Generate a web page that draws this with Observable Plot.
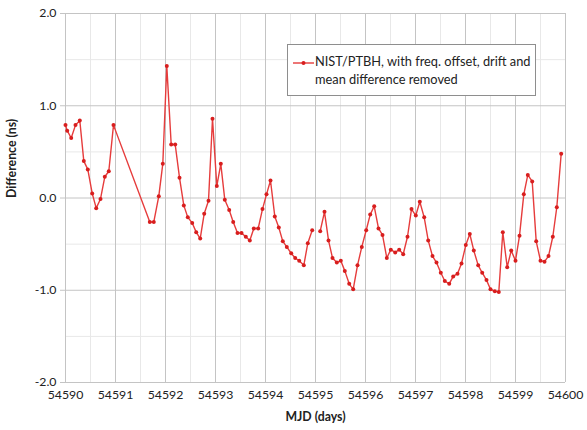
<!DOCTYPE html>
<html>
<head>
<meta charset="utf-8">
<script src="https://cdn.jsdelivr.net/npm/d3@7"></script>
<script src="https://cdn.jsdelivr.net/npm/@observablehq/plot@0.6"></script>
<style>
  body { margin: 0; background: #fff; }
  #chart { position: relative; width: 587px; height: 430px; }
  .legend {
    position: absolute; left: 287px; top: 44px; width: 249px; height: 52px;
    box-sizing: border-box; border: 1px solid #8e8e8e; background: #fff;
    font: 12.8px Lato, sans-serif; color: #222;
  }
  .legend .txt { position: absolute; left: 27px; top: 8px; line-height: 17.7px; white-space: nowrap; }
  .legend svg { position: absolute; left: 5px; top: 13px; }
</style>
</head>
<body>
<div id="chart"></div>
<script>
// NIST/PTBH time difference (ns), 2-hourly samples
const mjd = [
  54590.000, 54590.034, 54590.114, 54590.200, 54590.286, 54590.366, 54590.446, 54590.534,
  54590.614, 54590.700, 54590.786, 54590.866, 54590.960,
  54591.686, 54591.766, 54591.866, 54591.946, 54592.026, 54592.114, 54592.194, 54592.280,
  54592.366, 54592.446, 54592.534, 54592.614, 54592.694, 54592.774, 54592.860, 54592.940,
  54593.026, 54593.106, 54593.186, 54593.274, 54593.354, 54593.440, 54593.520, 54593.606,
  54593.686, 54593.766, 54593.854, 54593.940, 54594.020, 54594.100, 54594.186, 54594.266,
  54594.346, 54594.426, 54594.514, 54594.594, 54594.674, 54594.766, 54594.846, 54594.934,
  54595.014,
  54595.094, 54595.180, 54595.260, 54595.340, 54595.426, 54595.506, 54595.586, 54595.674,
  54595.754, 54595.840, 54595.926, 54596.014, 54596.094, 54596.174, 54596.260, 54596.340,
  54596.426, 54596.506, 54596.594, 54596.674, 54596.754, 54596.840, 54596.920, 54597.006,
  54597.086, 54597.174, 54597.254, 54597.340, 54597.420, 54597.506, 54597.586, 54597.674,
  54597.754, 54597.840, 54597.920, 54598.006, 54598.086, 54598.166, 54598.254, 54598.334,
  54598.420, 54598.500, 54598.586, 54598.666, 54598.746, 54598.834, 54598.914, 54599.000,
  54599.080, 54599.166, 54599.246, 54599.334, 54599.414, 54599.500, 54599.580, 54599.660,
  54599.746, 54599.826, 54599.914
];
const diff = [
  0.79, 0.73, 0.65, 0.79, 0.84, 0.40, 0.31, 0.05,
  -0.11, -0.01, 0.23, 0.29, 0.79,
  -0.26, -0.26, 0.02, 0.37, 1.43, 0.58, 0.58, 0.22,
  -0.08, -0.21, -0.27, -0.37, -0.44, -0.17, -0.03, 0.86,
  0.13, 0.37, -0.02, -0.13, -0.26, -0.38, -0.38, -0.42,
  -0.46, -0.33, -0.33, -0.12, 0.04, 0.19, -0.20, -0.32,
  -0.47, -0.53, -0.60, -0.65, -0.68, -0.73, -0.49, -0.35,
  NaN,
  -0.36, -0.15, -0.46, -0.65, -0.70, -0.68, -0.79, -0.93,
  -0.99, -0.73, -0.53, -0.35, -0.18, -0.09, -0.33, -0.40,
  -0.65, -0.56, -0.59, -0.56, -0.61, -0.42, -0.12, -0.19,
  -0.04, -0.21, -0.46, -0.63, -0.70, -0.81, -0.90, -0.93,
  -0.85, -0.82, -0.71, -0.51, -0.39, -0.57, -0.73, -0.81,
  -0.89, -0.99, -1.01, -1.02, -0.37, -0.75, -0.57, -0.68,
  -0.41, 0.04, 0.25, 0.18, -0.47, -0.68, -0.69, -0.63,
  -0.42, -0.10, 0.48
];

const xTicks = [54590, 54591, 54592, 54593, 54594, 54595, 54596, 54597, 54598, 54599, 54600];
const xMinor = [54590.5, 54591.5, 54592.5, 54593.5, 54594.5, 54595.5, 54596.5, 54597.5, 54598.5, 54599.5];
const yTicks = [-2, -1, 0, 1, 2];
const yMinor = [-1.5, -0.5, 0.5, 1.5];
const seriesName = ["NIST/PTBH, with freq. offset, drift and", "mean difference removed"];

const data = mjd.map((t, i) => ({t, v: diff[i]}));
const lineColor = "#e63c3c";
const dotColor = "#d81e1e";

const chart = Plot.plot({
  width: 587,
  height: 430,
  marginLeft: 65,
  marginRight: 22,
  marginTop: 13,
  marginBottom: 48,
  style: {fontFamily: "Lato, sans-serif", fontSize: "12px", color: "#222", background: "white"},
  x: {domain: [54590, 54600], label: null},
  y: {domain: [-2, 2], label: null},
  marks: [
    Plot.ruleX(xMinor, {stroke: "#e8e8e8"}),
    Plot.ruleY(yMinor, {stroke: "#e8e8e8"}),
    Plot.ruleX(xTicks, {stroke: "#c4c4c4"}),
    Plot.ruleY(yTicks, {stroke: "#c4c4c4"}),
    Plot.axisX({ticks: xTicks, tickFormat: d => String(d), tickSize: 0, tickPadding: 8, label: null, fontSize: 12.3}),
    Plot.axisY({ticks: yTicks, tickFormat: d => d.toFixed(1), tickSize: 5, tickPadding: 4, stroke: "#c4c4c4", label: null, fontSize: 12.3}),
    Plot.line(data, {x: "t", y: "v", stroke: lineColor, strokeWidth: 1.4}),
    Plot.dot(data, {x: "t", y: "v", r: 2, fill: dotColor}),
    Plot.text(["MJD (days)"], {frameAnchor: "bottom", dy: 38, fontWeight: "bold", fontSize: 12.3}),
    Plot.text(["Difference (ns)"], {frameAnchor: "left", dx: -53, rotate: -90, fontWeight: "bold", fontSize: 12.3})
  ]
});

const root = document.getElementById("chart");
root.appendChild(chart);

// legend box
const legend = document.createElement("div");
legend.className = "legend";
legend.innerHTML =
  `<svg width="22" height="10"><line x1="0" y1="5" x2="21" y2="5" stroke="${lineColor}" stroke-width="1.4"/>` +
  `<circle cx="10.5" cy="5" r="2" fill="${dotColor}"/></svg>` +
  `<div class="txt">${seriesName[0]}<br>${seriesName[1]}</div>`;
root.appendChild(legend);
</script>
</body>
</html>
